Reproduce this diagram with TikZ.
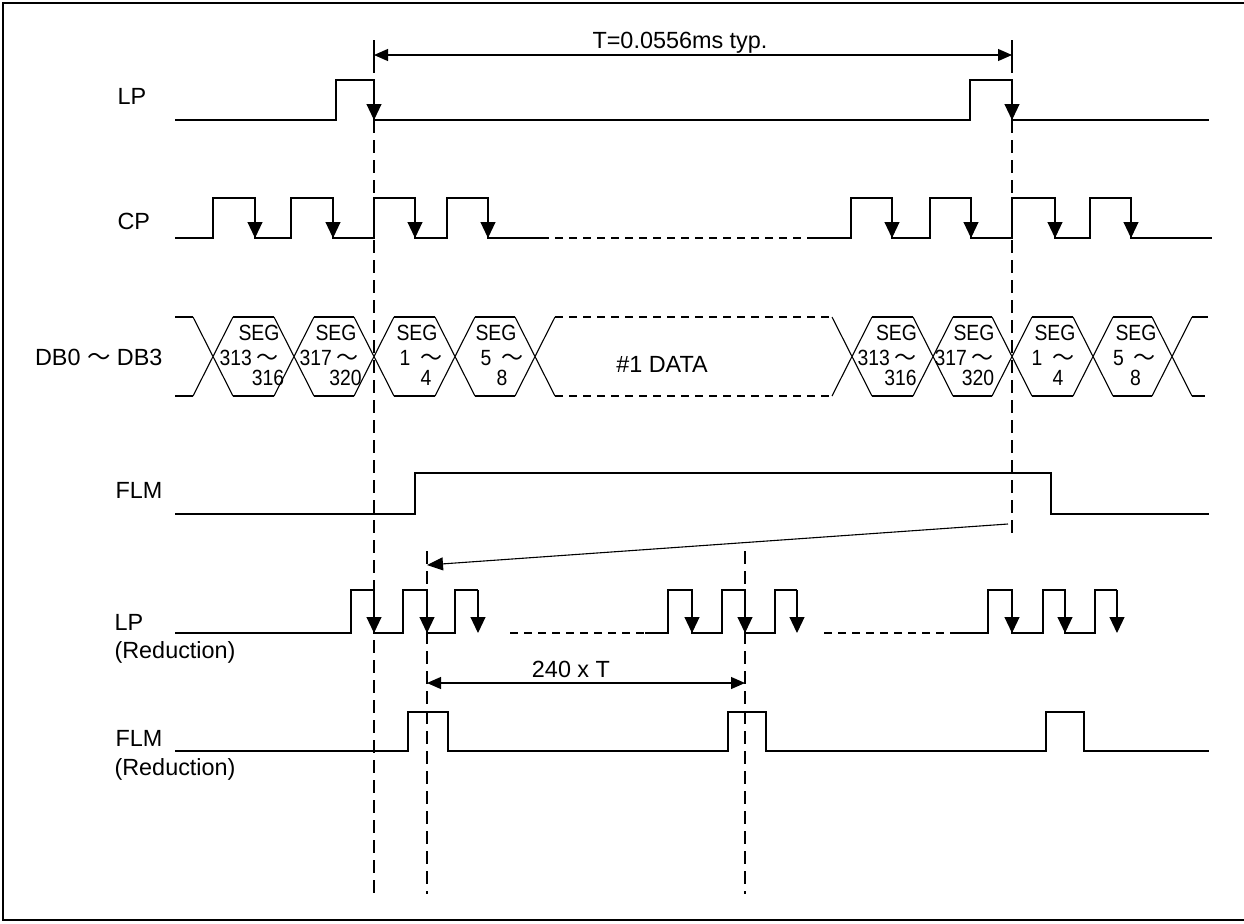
\documentclass[tikz,border=0pt]{standalone}
\usepackage{fontspec}
\setmainfont{Liberation Sans}
\newfontfamily\segfont[FakeStretch=0.88]{Liberation Sans}
\newfontfamily\cjk{Noto Sans CJK JP}
\usetikzlibrary{arrows.meta}

\begin{document}
\begin{tikzpicture}[x=0.5pt,y=-0.5pt,line width=0.55pt,
                    font=\fontsize{11.7}{14}\selectfont]
  \tikzstyle{fall}=[-{Triangle[length=8pt,width=7.5pt]}]
  \tikzstyle{guide}=[dash pattern=on 6.5pt off 3.5pt]
  \tikzstyle{idle}=[dash pattern=on 4pt off 3pt]
  \tikzstyle{dimarr}=[{Triangle[length=7pt,width=6pt]}-{Triangle[length=7pt,width=6pt]}]
  \tikzstyle{lab}=[inner sep=0pt, anchor=base west]
  \tikzstyle{txt}=[inner sep=0pt, anchor=base]
  \tikzstyle{seg}=[inner sep=0pt, anchor=base, font=\segfont\fontsize{11}{13}\selectfont]

  \useasboundingbox (0,0) rectangle (1244,923);
  \draw[line width=1pt] (1250,2.5) -- (2.5,2.5) -- (2.5,920) -- (1250,920);

  \coordinate (Ltop) at (374,40);  \coordinate (Lbot) at (374,893);
  \coordinate (Rtop) at (1012,40); \coordinate (Rbot) at (1012,533);
  \coordinate (Ptop) at (427,551); \coordinate (Pbot) at (427,894);
  \coordinate (Qtop) at (745,551); \coordinate (Qbot) at (745,894);
  \coordinate (T1) at (374,55);    \coordinate (T2) at (1012,55);
  \coordinate (S1) at (1008,524);  \coordinate (S2) at (427,565);
  \coordinate (N1) at (427,683);   \coordinate (N2) at (745,683);

  \node[lab] (lp)    at (117,104)   {LP};
  \node[lab] (cp)    at (117,229)   {CP};
  \node[inner sep=0pt, anchor=base east] (db) at (163,365) {DB0 {\cjk ～} DB3};
  \node[lab] (flm)   at (115,498)   {FLM};
  \node[lab] (lpr)   at (114,630)   {LP};
  \node[lab] (lprr)  at (114,658)   {(Reduction)};
  \node[lab] (flmr)  at (115,746.5) {FLM};
  \node[lab] (flmrr) at (114,775)   {(Reduction)};

  \draw[guide] (Ltop) -- (Lbot);
  \draw[guide] (Rtop) -- (Rbot);
  \draw[guide] (Ptop) -- (Pbot);
  \draw[guide] (Qtop) -- (Qbot);
  \draw (Ltop) -- ++(0,22);
  \draw (Rtop) -- ++(0,22);

  \draw[dimarr] (T1) -- (T2);
  \node[txt] (period) at (680,48) {T=0.0556ms typ.};
  \draw[-{Triangle[length=8pt,width=6.5pt]}] (S1) -- (S2);
  \draw[dimarr] (N1) -- (N2);
  \node[txt] (frame) at (571,677) {240 x T};

  % LP
  \draw (175,120) -- (336,120) -- (336,80) -- (374,80) -- (374,120) -- (970,120)
        -- (970,80) -- (1012,80) -- (1012,120) -- (1209,120);
  \foreach \x in {374,1012} \draw[fall] (\x,80) -- (\x,120);

  % CP
  \draw (175,238) -- (213,238) -- (213,198) -- (255,198) -- (255,238) -- (291,238)
        -- (291,198) -- (333,198) -- (333,238) -- (374,238) -- (374,198) -- (415,198)
        -- (415,238) -- (447,238) -- (447,198) -- (488,198) -- (488,238) -- (541,238);
  \draw[idle] (541,238) -- (815,238);
  \draw (815,238) -- (851,238) -- (851,198) -- (892,198) -- (892,238) -- (930,238)
        -- (930,198) -- (971,198) -- (971,238) -- (1012,238) -- (1012,198) -- (1055,198)
        -- (1055,238) -- (1090,238) -- (1090,198) -- (1131,198) -- (1131,238) -- (1212,238);
  \foreach \x in {255,333,415,488,892,971,1055,1131} \draw[fall] (\x,198) -- (\x,238);

  % DB0-DB3
  \draw (175,317) -- (193,317) (175,396) -- (193,396);
  \foreach \c in {213,294,374,455,535,852,933,1012,1093,1172}
    \draw (\c-20,317) -- (\c+20,396) (\c-20,396) -- (\c+20,317);
  \foreach \a/\b in {213/294,294/374,374/455,455/535,852/933,933/1012,1012/1093,1093/1172}
    \draw (\a+20,317) -- (\b-20,317) (\a+20,396) -- (\b-20,396);
  \draw[idle] (555,317) -- (832,317) (555,396) -- (832,396);
  \draw (1192,317) -- (1208,317) (1192,396) -- (1205,396);
  \node[txt] (data) at (662,372) {\#1 DATA};
  \foreach \i/\xs/\xn/\xl/\n/\l in
    {1/259/249/268/313\hspace{0.2em}/316, 2/336/329/345.5/317\hspace{0.2em}/320,
     3/417/421/426/1\hspace{0.45em}/4, 4/496/502/502/5\hspace{0.45em}/8,
     5/896.5/887/900.5/313\hspace{0.2em}/316, 6/974/964/978/317\hspace{0.2em}/320,
     7/1055/1053/1058/1\hspace{0.45em}/4, 8/1136/1134.5/1135.5/5\hspace{0.45em}/8}
  {
    \node[seg] (seg\i)  at (\xs,340) {SEG};
    \node[seg] (from\i) at (\xn,365) {\n{\cjk ～}};
    \node[seg] (to\i)   at (\xl,385) {\l};
  }

  % FLM
  \draw (175,514) -- (415,514) -- (415,473) -- (1051,473) -- (1051,514) -- (1209,514);

  % LP (Reduction)
  \draw (175,633) -- (351,633) -- (351,590) -- (374,590) -- (374,633) -- (403,633)
        -- (403,590) -- (427,590) -- (427,633) -- (455,633) -- (455,590) -- (478,590);
  \draw[idle] (510,633) -- (645,633);
  \draw (645,633) -- (668,633) -- (668,590) -- (692,590) -- (692,633) -- (722,633)
        -- (722,590) -- (745,590) -- (745,633) -- (775,633) -- (775,590) -- (797,590);
  \draw[idle] (824,633) -- (955,633);
  \draw (955,633) -- (988,633) -- (988,590) -- (1012,590) -- (1012,633) -- (1043,633)
        -- (1043,590) -- (1065,590) -- (1065,633) -- (1095,633) -- (1095,590) -- (1117,590);
  \foreach \x in {374,427,478,692,745,797,1012,1065,1117} \draw[fall] (\x,590) -- (\x,633);

  % FLM (Reduction)
  \draw (175,751) -- (408,751) -- (408,712) -- (448,712) -- (448,751) -- (728,751)
        -- (728,712) -- (766,712) -- (766,751) -- (1046,751) -- (1046,712) -- (1084,712)
        -- (1084,751) -- (1209,751);
\end{tikzpicture}
\end{document}
